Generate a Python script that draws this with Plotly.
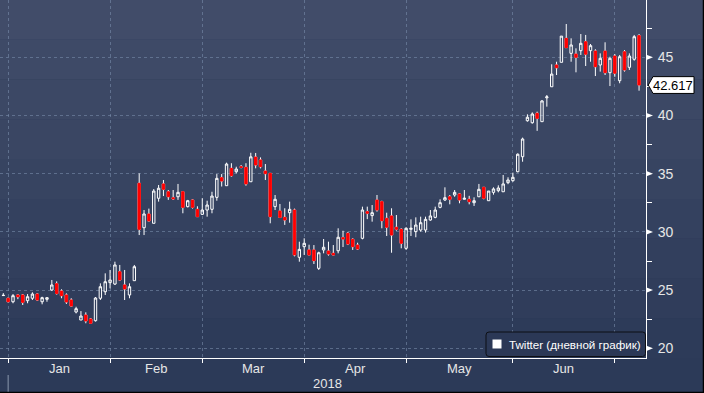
import plotly.graph_objects as go

# ---------------- data ----------------
trading_days = {
    "2017-12": [29],
    "2018-01": [2, 3, 4, 5, 8, 9, 10, 11, 12, 16, 17, 18, 19, 22, 23, 24, 25, 26, 29, 30, 31],
    "2018-02": [1, 2, 5, 6, 7, 8, 9, 12, 13, 14, 15, 16, 20, 21, 22, 23, 26, 27, 28],
    "2018-03": [1, 2, 5, 6, 7, 8, 9, 12, 13, 14, 15, 16, 19, 20, 21, 22, 23, 26, 27, 28, 29],
    "2018-04": [2, 3, 4, 5, 6, 9, 10, 11, 12, 13, 16, 17, 18, 19, 20, 23, 24, 25, 26, 27, 30],
    "2018-05": [1, 2, 3, 4, 7, 8, 9, 10, 11, 14, 15, 16, 17, 18, 21, 22, 23, 24, 25, 29, 30, 31],
    "2018-06": [1, 4, 5, 6, 7, 8, 11, 12, 13, 14, 15, 18, 19, 20, 21, 22, 25, 26, 27, 28, 29],
    "2018-07": [2, 3, 5, 6, 9, 10],
}
dates = [f"{ym}-{d:02d}" for ym, days in trading_days.items() for d in days]

open_ = [24.53, 24.30, 24.00, 24.58, 24.58, 24.09, 24.30, 24.66, 24.00, 24.21,
         25.01, 25.55, 24.92, 24.58, 24.15, 23.12, 22.43, 22.86, 22.52, 22.37,
         24.30, 24.86, 25.64, 25.52, 26.58, 25.44, 24.58, 25.81, 34.18, 30.36,
         31.54, 30.74, 32.89, 34.12, 33.45, 32.93, 33.02, 33.45, 32.17, 32.74,
         31.94, 31.51, 31.88, 31.94, 32.97, 34.66, 33.97, 35.46, 35.17, 35.60,
         35.55, 34.31, 36.43, 36.18, 35.23, 35.03, 32.17, 31.80, 31.25, 31.65,
         31.88, 27.82, 28.73, 28.45, 28.45, 26.87, 28.45, 28.36, 28.16, 28.38,
         29.50, 29.88, 29.36, 28.87, 29.45, 31.74, 31.40, 32.74, 32.60, 31.17,
         31.37, 30.40, 30.22, 28.59, 30.22, 30.02, 30.16, 30.16, 31.02, 31.25,
         32.11, 32.74, 33.02, 33.17, 33.26, 32.80, 32.80, 32.51, 33.02, 33.83,
         32.68, 33.40, 33.54, 33.45, 34.23, 34.40, 35.17, 36.46, 39.55, 39.38,
         40.19, 39.47, 41.52, 42.47, 44.34, 44.57, 46.63, 45.34, 45.28, 45.57,
         46.34, 45.57, 45.54, 44.34, 45.54, 43.68, 45.11, 42.99, 45.48, 44.14,
         44.83, 46.86]
high = [24.74, 24.35, 24.66, 24.64, 24.66, 24.66, 24.81, 24.72, 24.43, 24.35,
        25.87, 25.75, 25.07, 24.72, 24.30, 23.57, 23.20, 23.09, 22.60, 24.40,
        25.58, 26.44, 26.73, 27.44, 27.16, 26.73, 25.58, 27.16, 35.03, 31.88,
        32.00, 33.68, 34.03, 34.46, 33.60, 33.60, 34.12, 33.45, 32.75, 32.80,
        32.20, 32.89, 32.68, 33.45, 34.97, 34.97, 35.95, 35.90, 35.60, 35.75,
        35.90, 36.80, 36.78, 36.40, 35.83, 35.03, 33.17, 32.40, 32.03, 32.60,
        32.00, 29.16, 29.45, 28.90, 28.87, 28.30, 29.39, 29.16, 28.87, 30.31,
        30.10, 30.00, 29.45, 29.07, 32.17, 32.17, 32.31, 33.17, 32.68, 31.65,
        32.03, 31.45, 30.31, 30.40, 31.08, 31.25, 31.31, 31.31, 31.88, 32.17,
        32.80, 33.83, 33.17, 33.60, 33.32, 33.60, 33.10, 32.97, 34.12, 33.83,
        33.51, 33.83, 34.00, 34.89, 34.69, 35.09, 36.75, 38.10, 40.10, 40.27,
        40.33, 41.33, 41.76, 44.40, 44.62, 46.82, 47.86, 46.63, 45.77, 47.00,
        46.92, 46.14, 45.69, 45.34, 46.29, 45.05, 45.28, 45.20, 45.62, 45.34,
        46.92, 47.00]
low = [24.52, 23.95, 23.87, 24.22, 23.72, 23.87, 24.15, 24.09, 23.78, 24.00,
       24.92, 24.62, 24.30, 23.81, 23.57, 23.00, 22.43, 22.15, 22.15, 22.30,
       24.15, 24.58, 25.15, 25.44, 25.81, 24.15, 24.30, 25.81, 29.73, 29.73,
       30.90, 30.74, 32.60, 33.08, 32.75, 32.75, 32.75, 31.60, 32.10, 32.00,
       31.31, 31.45, 31.31, 31.60, 32.68, 33.90, 33.97, 34.74, 35.03, 35.46,
       33.97, 34.31, 35.46, 35.46, 34.46, 30.74, 31.88, 31.25, 30.60, 30.79,
       27.90, 27.44, 28.02, 28.02, 27.24, 26.73, 28.16, 27.96, 28.00, 28.16,
       28.70, 28.87, 28.45, 28.45, 29.36, 31.10, 30.88, 31.74, 30.31, 29.65,
       28.21, 30.10, 28.59, 28.45, 29.65, 29.54, 30.02, 29.94, 30.96, 31.17,
       32.03, 32.65, 32.37, 33.02, 32.46, 32.80, 32.37, 32.23, 33.02, 32.80,
       32.68, 33.20, 33.40, 33.45, 34.10, 34.31, 35.12, 36.03, 39.47, 39.30,
       38.68, 39.47, 40.76, 42.47, 43.48, 44.57, 45.83, 44.62, 43.71, 45.20,
       44.25, 44.62, 43.39, 43.77, 43.48, 42.53, 43.33, 42.77, 43.77, 43.91,
       44.71, 42.13]
close = [24.55, 24.00, 24.52, 24.43, 23.95, 24.43, 24.66, 24.15, 24.35, 24.35,
         25.44, 24.70, 24.52, 23.98, 23.63, 23.40, 22.77, 22.35, 22.15, 24.32,
         25.29, 25.72, 25.87, 27.16, 25.87, 25.10, 25.29, 27.01, 30.22, 31.54,
         30.94, 33.51, 33.75, 33.66, 33.02, 32.85, 33.40, 32.11, 32.68, 32.11,
         31.31, 31.88, 32.31, 33.08, 34.60, 34.37, 35.83, 34.83, 35.40, 35.55,
         34.12, 36.45, 35.75, 35.60, 35.00, 31.31, 32.80, 31.25, 31.02, 31.94,
         28.02, 28.50, 29.02, 28.02, 27.53, 28.21, 28.68, 28.10, 28.02, 29.54,
         29.39, 28.96, 28.73, 28.53, 31.88, 31.60, 31.65, 31.88, 30.96, 30.40,
         29.73, 30.22, 29.02, 30.31, 30.31, 30.59, 30.79, 31.08, 31.37, 31.88,
         32.51, 32.94, 32.80, 33.40, 32.74, 32.89, 32.60, 32.68, 33.66, 32.89,
         33.51, 33.69, 33.77, 34.12, 34.46, 34.69, 36.67, 37.98, 39.85, 40.13,
         39.76, 41.25, 41.60, 43.56, 44.10, 46.82, 45.83, 46.06, 45.00, 46.20,
         45.26, 46.00, 44.19, 44.91, 43.68, 44.91, 43.63, 45.05, 43.91, 45.11,
         46.77, 42.617]

series_name = "Twitter (дневной график)"
month_labels = ["Jan", "Feb", "Mar", "Apr", "May", "Jun"]
year_label = "2018"
y_ticks = [20, 25, 30, 35, 40, 45]
last_label = f"{close[-1]:.3f}"

# ---------------- geometry helpers ----------------
W, H = 704, 393
ML, MR, MT, MB = 0, 58, 0, 35
PW, PH = W - ML - MR, H - MT - MB          # plot area in px
Y0, Y1 = 19.167, 49.923                     # y range
X0, X1 = -0.68, len(dates) + 0.43
px_per_unit = PH / (Y1 - Y0)

def px_x(px):            # px (from plot left) -> paper x
    return px / PW

def px_y(py):            # px (from plot top) -> paper y
    return (PH - py) / PH

FONT = "Liberation Sans, Arial, sans-serif"
TXT = "#e6e6e6"

month_start_idx = []
for ym in list(trading_days.keys())[1:]:
    first = f"{ym}-{trading_days[ym][0]:02d}"
    month_start_idx.append(dates.index(first))
month_start_dates = [dates[i] for i in month_start_idx]

fig = go.Figure()

# wicks + hollow up bodies
fig.add_trace(go.Candlestick(
    x=dates, open=open_, high=high, low=low, close=close,
    increasing=dict(line=dict(color="white", width=1), fillcolor="rgba(0,0,0,0)"),
    decreasing=dict(line=dict(color="white", width=1), fillcolor="#ff0000"),
    whiskerwidth=0, showlegend=False, hoverinfo="skip", name=series_name,
))
# red bodies of down candles (cover the white outline)
dn = [i for i in range(len(dates)) if close[i] < open_[i]]
fig.add_trace(go.Candlestick(
    x=[dates[i] for i in dn],
    open=[open_[i] for i in dn], close=[close[i] for i in dn],
    high=[open_[i] for i in dn], low=[close[i] for i in dn],
    increasing=dict(line=dict(color="#ff0000", width=1), fillcolor="#ff0000"),
    decreasing=dict(line=dict(color="#ff0000", width=1), fillcolor="#ff0000"),
    whiskerwidth=0, showlegend=False, hoverinfo="skip", name=series_name,
))

shapes = []
# background gradient bands
top_c = (65, 76, 105)
bot_c = (45, 59, 89)
nb = 9
for b in range(nb):
    t = b / (nb - 1)
    c = tuple(round(top_c[j] + (bot_c[j] - top_c[j]) * t) for j in range(3))
    y_top = b * PH / nb
    y_bot = (b + 1) * PH / nb
    shapes.append(dict(type="rect", xref="paper", yref="paper", layer="below",
                       x0=0, x1=W / PW, y0=px_y(y_bot), y1=px_y(y_top),
                       fillcolor=f"rgb{c}", line=dict(width=0)))

# y major tick triangles
for v in y_ticks:
    h = 2.6 / px_per_unit
    shapes.append(dict(type="path", xref="paper", yref="y", layer="above",
                       path=f"M {px_x(PW + 0.5)},{v - h} L {px_x(PW + 0.5)},{v + h} L {px_x(PW + 7)},{v} Z",
                       fillcolor="white", line=dict(width=0)))

# last price tag
vc = close[-1]
hh = 8.4 / px_per_unit
xt, xl, xr = px_x(PW + 2.3), px_x(PW + 7), px_x(PW + 48)
shapes.append(dict(type="path", xref="paper", yref="y", layer="above",
                   path=f"M {xt},{vc} L {xl},{vc + hh} L {xr},{vc + hh} L {xr},{vc - hh} L {xl},{vc - hh} Z",
                   fillcolor="white", line=dict(color="black", width=1)))

# year separator
shapes.append(dict(type="line", xref="x", yref="paper", x0=month_start_idx[0], x1=month_start_idx[0],
                   y0=px_y(PH + 17), y1=px_y(PH + 35), line=dict(color="#8a97ad", width=1)))

# legend box (rounded)
lx0, lx1 = px_x(PW - 160), px_x(PW - 0.5)
ly0, ly1 = px_y(PH - 1.5), px_y(PH - 26)
rx, ry = 3 / PW, 3 / PH
shapes.append(dict(type="path", xref="paper", yref="paper", layer="above",
                   path=(f"M {lx0 + rx},{ly0} L {lx1 - rx},{ly0} Q {lx1},{ly0} {lx1},{ly0 + ry} "
                         f"L {lx1},{ly1 - ry} Q {lx1},{ly1} {lx1 - rx},{ly1} L {lx0 + rx},{ly1} "
                         f"Q {lx0},{ly1} {lx0},{ly1 - ry} L {lx0},{ly0 + ry} Q {lx0},{ly0} {lx0 + rx},{ly0} Z"),
                   fillcolor="#2b3856", line=dict(color="#0d0f14", width=1)))
# legend marker square
shapes.append(dict(type="rect", xref="paper", yref="paper", layer="above",
                   x0=px_x(PW - 153.5), x1=px_x(PW - 144.5), y0=px_y(PH - 9.5), y1=px_y(PH - 18.5),
                   fillcolor="white", line=dict(width=0)))

# figure border (right / bottom)
shapes.append(dict(type="line", xref="paper", yref="paper", x0=px_x(W - 0.5), x1=px_x(W - 0.5),
                   y0=px_y(H), y1=1, line=dict(color="black", width=1.5)))
shapes.append(dict(type="line", xref="paper", yref="paper", x0=0, x1=px_x(W),
                   y0=px_y(H - 0.5), y1=px_y(H - 0.5), line=dict(color="black", width=1.5)))

annotations = []
bounds = month_start_idx
for j, lab in enumerate(month_labels):
    mid = (bounds[j] + bounds[j + 1]) / 2
    annotations.append(dict(x=mid, xref="x", y=px_y(PH + 10.5), yref="paper", text=lab,
                            showarrow=False, xanchor="center", yanchor="middle",
                            font=dict(family=FONT, size=13, color=TXT)))
annotations.append(dict(x=(px_x(8) + 1) / 2, xref="paper", y=px_y(PH + 25.5), yref="paper",
                        text=year_label, showarrow=False, xanchor="center", yanchor="middle",
                        font=dict(family=FONT, size=13, color=TXT)))
annotations.append(dict(x=(xl + xr) / 2, xref="paper", y=vc, yref="y", text=last_label,
                        showarrow=False, xanchor="center", yanchor="middle",
                        font=dict(family=FONT, size=13, color="black")))
annotations.append(dict(x=px_x(PW - 139), xref="paper", y=px_y(PH - 14), yref="paper",
                        text=series_name, showarrow=False, xanchor="left", yanchor="middle",
                        font=dict(family=FONT, size=11.6, color="white")))

grid_c = "rgba(120,140,170,0.6)"
fig.update_layout(
    width=W, height=H,
    margin=dict(l=ML, r=MR, t=MT, b=MB, pad=0),
    paper_bgcolor="rgb(44,58,88)",
    plot_bgcolor="rgba(0,0,0,0)",
    showlegend=False,
    shapes=shapes,
    annotations=annotations,
    font=dict(family=FONT, color=TXT),
    xaxis=dict(
        type="category", categoryorder="array", categoryarray=dates,
        range=[X0, X1], rangeslider=dict(visible=False),
        tickmode="array", tickvals=month_start_dates, ticktext=[""] * len(month_start_dates),
        ticks="outside", ticklen=4, tickcolor="white", tickwidth=1,
        showgrid=True, gridcolor=grid_c, griddash="3px,3px", gridwidth=1,
        showline=True, linecolor="white", linewidth=1,
        zeroline=False, fixedrange=True,
    ),
    yaxis=dict(
        side="right", range=[Y0, Y1],
        tickmode="array", tickvals=y_ticks,
        ticks="outside", ticklen=8, tickcolor="rgba(0,0,0,0)",
        tickfont=dict(family=FONT, size=14, color=TXT),
        minor=dict(tickmode="array", tickvals=[v + 2.5 for v in y_ticks],
                   ticks="outside", ticklen=5, tickcolor="white", tickwidth=1, showgrid=False),
        showgrid=True, gridcolor=grid_c, griddash="3px,3px", gridwidth=1,
        showline=True, linecolor="white", linewidth=1,
        zeroline=False, fixedrange=True,
    ),
)

fig.write_html("out.html", config={"displayModeBar": False},
               post_script="document.body.style.margin='0';")
